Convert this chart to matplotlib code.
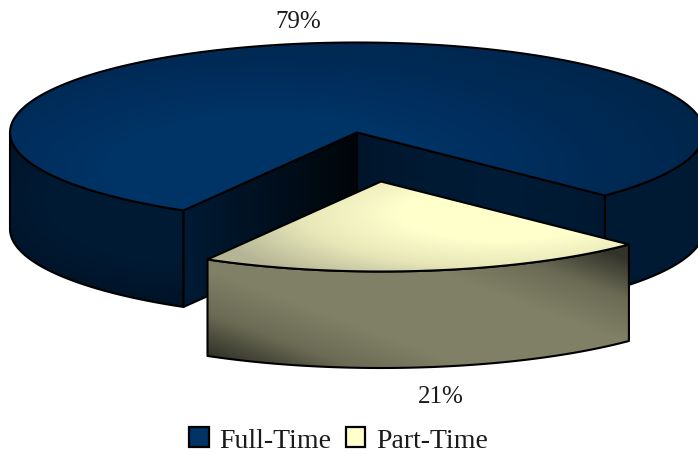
import numpy as np
import matplotlib
matplotlib.use("Agg")
import matplotlib.pyplot as plt
from matplotlib.colors import LinearSegmentedColormap
from matplotlib.patches import Patch, Polygon

categories = ["Full-Time", "Part-Time"]
values = [79, 21]
colors = ["#003366", "#FFFFCC"]

W, H = 698, 456
CX, CY, RX, RY, DEPTH = 357, 133.5, 347, 90, 96.5
START = 120.0
EXPLODE = (24, 49)

plt.rcParams["font.family"] = ["Liberation Serif", "DejaVu Serif"]
fig = plt.figure(figsize=(W / 100, H / 100), dpi=100)
ax = fig.add_axes([0, 0, 1, 1])
ax.axis("off")

yy, xx = np.mgrid[0:H, 0:W] + 0.5


def shade(field, stops, poly, z):
    cmap = LinearSegmentedColormap.from_list("s", stops)
    im = ax.imshow(np.clip(field, 0, 1), cmap=cmap, vmin=0, vmax=1,
                   extent=(0, W, H, 0), aspect="auto", zorder=z, interpolation="bilinear")
    patch = Polygon(poly, closed=True, facecolor="none", edgecolor="black",
                    linewidth=1.5, joinstyle="round", zorder=z + 0.5)
    ax.add_patch(patch)
    im.set_clip_path(patch)


def arc(a0, a1, dx=0, dy=0, n=240):
    t = np.radians(np.linspace(a0, a1, n))
    return np.column_stack((CX + dx + RX * np.cos(t), CY + dy + RY * np.sin(t)))


def drop(points):
    return points + np.array([0, DEPTH])


span = [v / sum(values) * 360 for v in values]
full0, full1 = START, START + span[0]
part0, part1 = full1 - 360, START
apex = np.array([[CX, CY]])

# Full-Time: outer walls
left_arc = arc(full0, 180)
right_arc = arc(360, full1)
wall_stops = ["#001a33", "#001a33", "#000f1f"]
left_field = np.hypot((xx - 180) / 230, (yy - 200) / 110) * 0.85
shade(left_field, wall_stops, np.vstack((left_arc, drop(left_arc)[::-1])), 1)
right_field = np.hypot((xx - 640) / 110, (yy - 200) / 90) * 0.6
shade(right_field, wall_stops, np.vstack((right_arc, drop(right_arc)[::-1])), 1)

# Full-Time: inner faces at the cut
cut_left, cut_right = arc(full0, full0, n=1), arc(full1, full1, n=1)
inner_left = np.vstack((apex, cut_left, drop(cut_left), drop(apex)))
inner_right = np.vstack((apex, cut_right, drop(cut_right), drop(apex)))
field_r = 0.25 + np.abs(xx - 500) / 300
shade(field_r, ["#001d3a", "#001a33", "#000f1f"], inner_right, 2)
field_l = (xx - 190) / 165
shade(field_l, ["#001a33", "#000509"], inner_left, 2)

# Full-Time: top face
top = np.vstack((apex, arc(full0, full1)))
top_field = np.hypot((xx - 270) / 500, (yy - 170) / 170)
shade(top_field, ["#003366", "#003366", "#002a55", "#002448"], top, 3)

# Part-Time: outer wall
dx, dy = EXPLODE
part_arc = arc(part0, part1, dx, dy)
side_field = np.abs((xx - 417) / 210 * 0.62 - (yy - 307) / 48 * 0.38)
shade(side_field, ["#808066", "#808066", "#6c6c56", "#33332a"],
      np.vstack((part_arc, drop(part_arc)[::-1])), 4)

# Part-Time: top face
part_top = np.vstack((apex + np.array(EXPLODE), part_arc))
part_field = np.hypot((xx - 500) / 300, (yy - 215) / 80)
shade(part_field, ["#FFFFCC", "#FFFFCC", "#E6E6B8", "#B5B596"], part_top, 5)

ax.set_xlim(0, W)
ax.set_ylim(H, 0)

# Percentage labels
label_pos = [(298, 22), (441, 397)]
for val, (lx, ly) in zip(values, label_pos):
    ax.text(lx, ly, f"{val}%", ha="center", va="center", fontsize=18, color="#1a1a1a", zorder=8)

# Legend
handles = [Patch(facecolor=c, edgecolor="black", linewidth=1.6, label=n)
           for c, n in zip(colors, categories)]
ax.legend(handles=handles, loc="center", bbox_to_anchor=(338.5, 441),
          bbox_transform=ax.transData, ncol=2, frameon=False, fontsize=20,
          handlelength=0.7, handleheight=0.7, handletextpad=0.4,
          columnspacing=0.5, borderpad=0, labelcolor="#1a1a1a")

fig.savefig("out.png", dpi=100)
